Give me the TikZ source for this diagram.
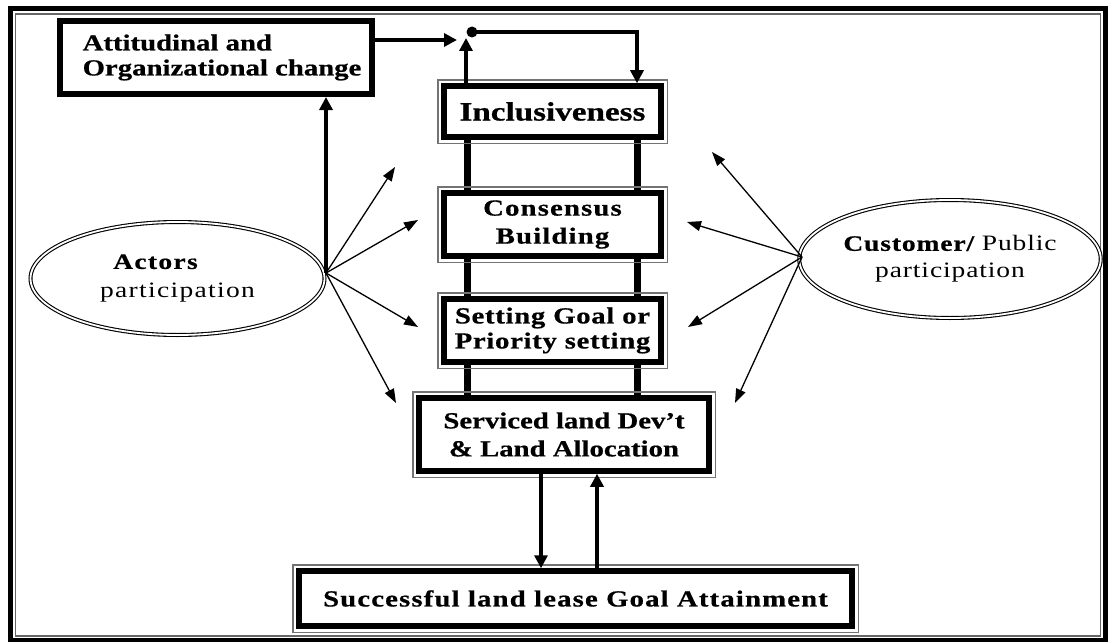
\documentclass[tikz,border=0pt]{standalone}
\usepackage{fontspec}
\setmainfont{Liberation Serif}[FakeStretch=1.25,BoldFeatures={FakeBold=0.6}]
\usetikzlibrary{arrows.meta,shapes.geometric}
\pgfdeclarelayer{background}
\pgfsetlayers{background,main}
\newcommand{\trk}[1]{\addfontfeature{LetterSpace=#1}}
\begin{document}
\begin{tikzpicture}[x=1pt,y=-1pt,
  heavy/.style={line width=4pt,-{Triangle[length=13pt,width=13pt]}},
  fanarrow/.style={line width=1.3pt,-{Triangle[length=14pt,width=10pt]}},
  rail/.style={line width=7pt},
  dbox/.style={draw,line width=5.5pt,fill=white,inner sep=0pt,align=center},
  oval/.style={ellipse,draw,double,double distance=1.8pt,line width=1.1pt,fill=white,inner sep=0pt,align=center},
  grayframe/.style={draw=black!55,line width=1.5pt}
]
\useasboundingbox (0,0) rectangle (1108,642);

% outer double border
\draw[line width=5pt] (10,8.5) rectangle (1105.5,640);
\draw[line width=1.5pt,black!60] (15.5,14) rectangle (1100.5,636);

% boxes of the central column
\node[dbox,minimum width=217pt,minimum height=51pt,
      font={\fontsize{26.5}{32}\selectfont\bfseries}] (incl) at (552.5,111.5) {Inclusiveness};
\node[dbox,minimum width=217pt,minimum height=63pt,
      font={\fontsize{23}{28}\selectfont\bfseries\trk{5}}] (cons) at (552.5,224.5) {Consensus\\Building};
\node[dbox,minimum width=217pt,minimum height=63pt,
      font={\fontsize{23}{25}\selectfont\bfseries\trk{3}}] (goal) at (552.5,330.5) {Setting Goal or\\Priority setting};
\node[dbox,minimum width=290pt,minimum height=73pt,
      font={\fontsize{23}{28}\selectfont\bfseries}] (serv) at (564,434.5) {Serviced land Dev’t\\\& Land Allocation};
\node[dbox,minimum width=553pt,minimum height=55pt,
      font={\fontsize{23}{28}\selectfont\bfseries\trk{5}}] (succ) at (575.5,598.5) {Successful land lease Goal Attainment};

% thin outer line around each box of the column
\foreach \n in {incl,cons,goal,serv,succ}{
  \draw[grayframe] ([shift={(-3.5,-3.5)}]\n.north west) rectangle ([shift={(3.5,3.5)}]\n.south east);
}

% page ground and the rails linking the column, behind the boxes
\begin{pgfonlayer}{background}
\fill[white] (0,0) rectangle (1108,642);
\draw[rail] (467,0 |- incl.center) -- (467,0 |- serv.center);
\draw[rail] (637,0 |- incl.center) -- (637,0 |- serv.center);
\end{pgfonlayer}

% attitudinal box
\node[draw,line width=6pt,minimum width=312pt,minimum height=73pt,
      inner xsep=0pt,inner ysep=0pt,align=left,
      font={\fontsize{23}{25}\selectfont\bfseries}] (att) at (216,57.5)
      {\hspace*{12pt}Attitudinal and\\\hspace*{12pt}Organizational change};

% ellipses
\node[oval,minimum width=294pt,minimum height=113pt,
      font={\fontsize{22}{29}\selectfont\trk{6}}] (actors) at (177.5,278.5)
      {{\bfseries Actors}\hspace*{44pt}\\participation};
\node[oval,minimum width=296pt,minimum height=118pt,
      font={\fontsize{22}{27}\selectfont\trk{4}}] (cust) at (950,259)
      {{\bfseries Customer/} Public\\participation};

% fan points and arrow ends
\coordinate (afan) at (326,273);
\coordinate (cfan) at (802,257);
\coordinate (a1) at (395,167);
\coordinate (a2) at (418,220);
\coordinate (a3) at (418,327);
\coordinate (a4) at (396,403);
\coordinate (c1) at (712,152);
\coordinate (c2) at (687,222);
\coordinate (c3) at (688,327);
\coordinate (c4) at (735,403);

\foreach \t in {a1,a2,a3,a4}{\draw[fanarrow] (afan) -- (\t);}
\foreach \t in {c1,c2,c3,c4}{\draw[fanarrow] (cfan) -- (\t);}

% actors feed the attitudinal change
\draw[heavy] (afan) -- (afan |- att.south);

% feedback loop at the top
\coordinate (jn) at (472,32);
\coordinate (upTip) at (466,38);
\coordinate (inTip) at (457,40);
\draw[heavy] (att.east |- inTip) -- (inTip);
\draw[heavy] (466,0 |- incl.north) -- (upTip);
\draw[heavy] (jn) -| (637,0 |- incl.north);
\fill (jn) circle (5.5);

% link to the goal attainment
\draw[heavy] (541,0 |- serv.south) -- (541,0 |- succ.north);
\draw[heavy] (597,0 |- succ.north) -- (597,0 |- serv.south);
\end{tikzpicture}
\end{document}
